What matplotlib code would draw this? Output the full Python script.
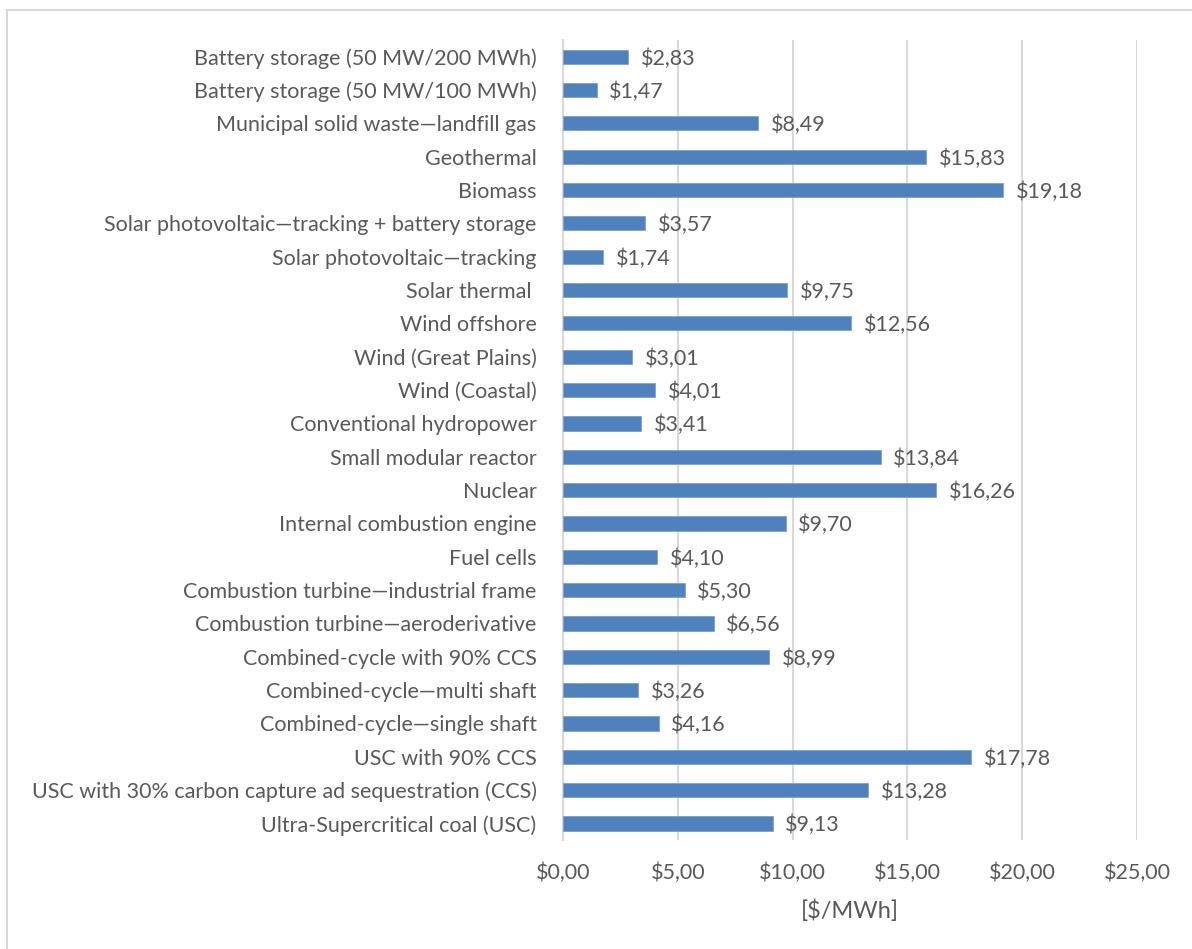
import matplotlib.pyplot as plt
from matplotlib.patches import Rectangle

# Datos (de arriba hacia abajo en el gráfico)
categorias = [
    "Battery storage (50 MW/200 MWh)",
    "Battery storage (50 MW/100 MWh)",
    "Municipal solid waste\u2014landfill gas",
    "Geothermal",
    "Biomass",
    "Solar photovoltaic\u2014tracking + battery storage",
    "Solar photovoltaic\u2014tracking",
    "Solar thermal ",
    "Wind offshore",
    "Wind (Great Plains)",
    "Wind (Coastal)",
    "Conventional hydropower",
    "Small modular reactor",
    "Nuclear",
    "Internal combustion engine",
    "Fuel cells",
    "Combustion turbine\u2014industrial frame",
    "Combustion turbine\u2014aeroderivative",
    "Combined-cycle with 90% CCS",
    "Combined-cycle\u2014multi shaft",
    "Combined-cycle\u2014single shaft",
    "USC with 90% CCS",
    "USC with 30% carbon capture ad sequestration (CCS)",
    "Ultra-Supercritical coal (USC)",
]
valores = [2.83, 1.47, 8.49, 15.83, 19.18, 3.57, 1.74, 9.75, 12.56, 3.01, 4.01, 3.41,
           13.84, 16.26, 9.70, 4.10, 5.30, 6.56, 8.99, 3.26, 4.16, 17.78, 13.28, 9.13]
ticks_x = [0, 5, 10, 15, 20, 25]

plt.rcParams['font.family'] = ['Lato', 'DejaVu Sans']
gris = '#595959'
fs = 15.5

fig = plt.figure(figsize=(11.92, 9.49), dpi=100)
# Borde del área del gráfico
fig.patches.append(Rectangle((7 / 1192, -0.01), 1.02, 1 - 10 / 949 + 0.01,
                             transform=fig.transFigure, fill=False,
                             edgecolor='#d9d9d9', linewidth=1.5))
ax = fig.add_axes([563 / 1192, 1 - 840 / 949, (1137 - 563) / 1192, 800 / 949])

y = list(range(len(categorias)))
ax.barh(y, valores, height=0.43, color='#4f81bd', edgecolor='#7ea1cf', linewidth=0.6, zorder=3)
for yi, v in zip(y, valores):
    ax.text(v + 0.55, yi + 0.06, "$" + f"{v:.2f}".replace(".", ","), va='center', ha='left',
            fontsize=fs, color=gris)

ax.set_ylim(len(categorias) - 0.5, -0.5)
ax.set_xlim(0, 25)
ax.set_yticks(y)
ax.set_yticklabels(categorias, fontsize=fs, color=gris)
ax.set_xticks(ticks_x)
ax.set_xticklabels(["$" + f"{t:.2f}".replace(".", ",") for t in ticks_x], fontsize=fs, color=gris)
ax.tick_params(axis='both', length=0)
ax.tick_params(axis='y', pad=19)
ax.tick_params(axis='x', pad=16)
ax.grid(axis='x', color='#d9d9d9', linewidth=1.5, zorder=0)
for s in ['top', 'right', 'bottom']:
    ax.spines[s].set_visible(False)
ax.spines['left'].set_color('#d9d9d9')
ax.spines['left'].set_linewidth(1.5)
ax.set_xlabel("[$/MWh]", fontsize=17, color=gris, labelpad=12)

fig.savefig("out.png", dpi=100)
